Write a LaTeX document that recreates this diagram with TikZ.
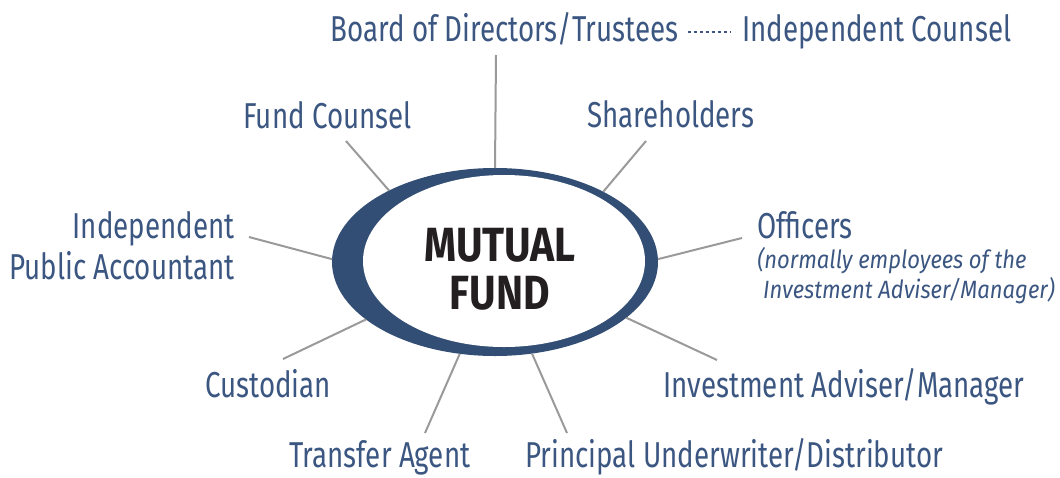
\documentclass[tikz,border=0pt]{standalone}
\usepackage{fontspec}
\setmainfont{Fira Sans}[FakeStretch=0.77]
\newfontfamily\notefont{Fira Sans}[FakeStretch=0.88]
\newfontfamily\fundfont{Fira Sans}[FakeStretch=0.85]
\usepackage{tikz}
\usetikzlibrary{shapes.geometric}
\definecolor{fundblue}{HTML}{334E74}
\definecolor{labelblue}{HTML}{3B5681}
\definecolor{spokegray}{HTML}{9A9A9A}
\definecolor{fundblack}{HTML}{231F20}
\begin{document}
\begin{tikzpicture}[x=0.5pt,y=-0.5pt,
	lbl/.style={text=labelblue, font=\fontsize{18}{20.5}\selectfont, inner sep=0pt},
	note/.style={text=labelblue, font=\notefont\fontsize{12.5}{15}\selectfont\itshape, inner sep=0pt},
	spoke/.style={draw=spokegray, line width=1pt}]
	\useasboundingbox (0,0) rectangle (1060,477);
	% the fund
	\node[ellipse, fill=fundblue, inner sep=0pt, outer sep=0pt, minimum width=163pt, minimum height=94pt] (ring) at (495,262) {};
	\node[ellipse, fill=white, inner sep=0pt, outer sep=0pt, minimum width=141pt, minimum height=86pt] (hole) at (504,261) {};
	\node[align=center, text=fundblack, font=\fundfont\fontsize{24}{24}\selectfont\bfseries] (fund) at (500,269) {MUTUAL\\FUND};
	%
	\node[lbl, anchor=base west] (board) at (330,41) {Board of Directors/Trustees};
	\node[lbl, anchor=base west] (counsel) at (742,41) {Independent Counsel};
	\node[lbl, anchor=base west] (fc) at (243,128) {Fund Counsel};
	\node[lbl, anchor=base west] (sh) at (587,127) {Shareholders};
	\node[lbl, anchor=base east, align=right] (ipa) at (235,279) {Independent\\Public Accountant};
	\node[lbl, anchor=base west] (off) at (757,238) {Officers};
	\node[note, anchor=base west, align=left] (offnote) at (757,298) {(normally employees of the\\\ Investment Adviser/Manager)};
	\node[lbl, anchor=base west] (cust) at (205,397) {Custodian};
	\node[lbl, anchor=base west] (adv) at (663,397) {Investment Adviser/Manager};
	\node[lbl, anchor=base west] (ta) at (289,467) {Transfer Agent};
	\node[lbl, anchor=base west] (pu) at (525,467) {Principal Underwriter/Distributor};
	%
	\coordinate (board-end) at (496,55);
	\coordinate (fc-end) at (346,141);
	\coordinate (sh-end) at (646,141);
	\coordinate (ipa-end) at (249,237);
	\coordinate (off-end) at (742,238);
	\coordinate (cust-end) at (283,359);
	\coordinate (adv-end) at (717,360);
	\coordinate (ta-end) at (425,433);
	\coordinate (pu-end) at (567,433);
	%
	\path[spoke]
	(board-end) edge (ring.90)
	(fc-end) edge (ring.146)
	(sh-end) edge (ring.33)
	(ipa-end) edge (ring.179)
	(off-end) edge (ring.1)
	(cust-end) edge (ring.204)
	(adv-end) edge (ring.337)
	(ta-end) edge (ring.249)
	(pu-end) edge (ring.292);
	\draw[labelblue, line width=1pt, dash pattern=on 1.5pt off 1.5pt, shorten <=4.5pt, shorten >=6pt]
	([yshift=4.5pt]board.base east) -- ([yshift=4.5pt]counsel.base west);
\end{tikzpicture}
\end{document}
